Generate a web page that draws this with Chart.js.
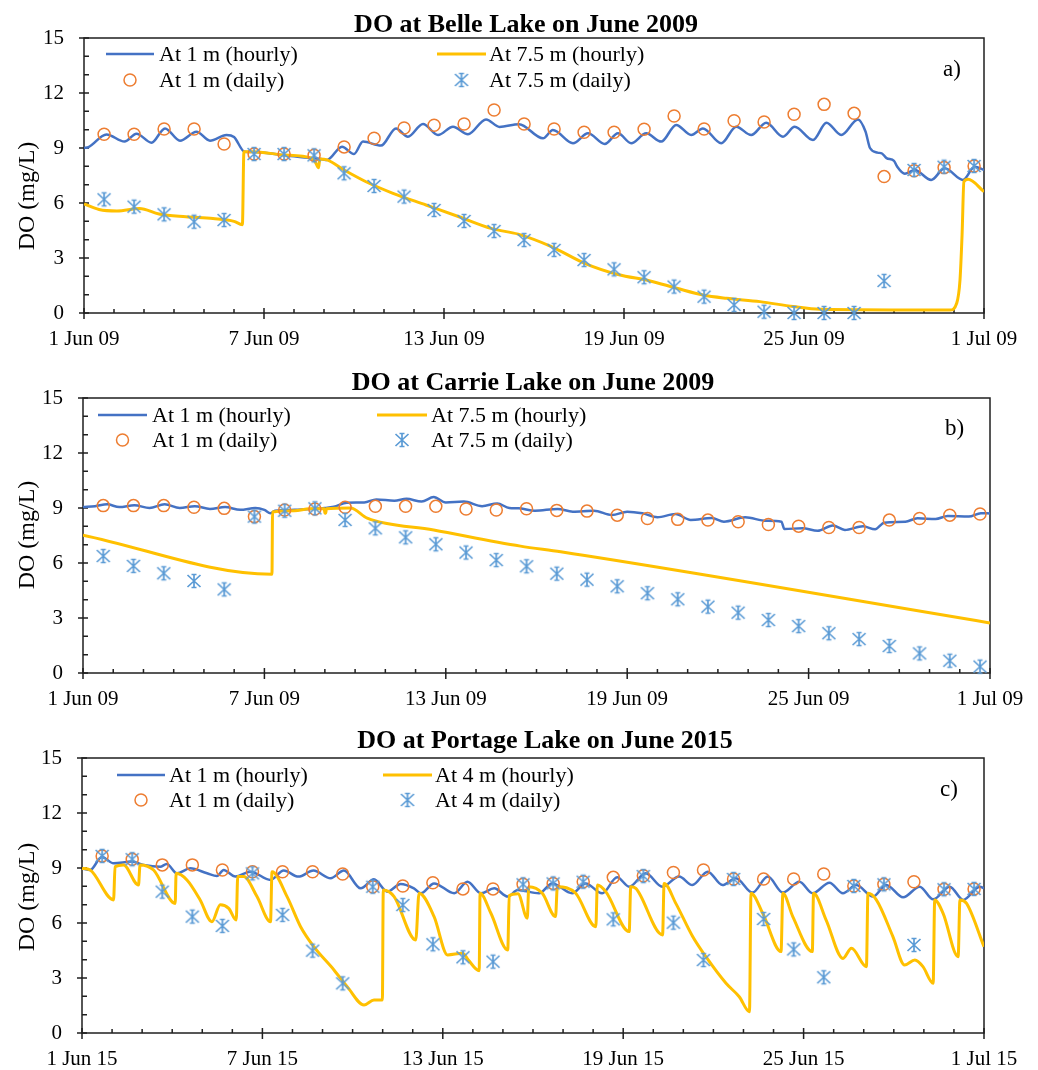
<!DOCTYPE html>
<html>
<head>
<meta charset="utf-8">
<script src="https://cdn.jsdelivr.net/npm/chart.js@4.4.1/dist/chart.umd.min.js"></script>
<style>
  html, body { margin: 0; padding: 0; background: #fff; }
  #wrap { position: relative; width: 1038px; height: 1070px; }
  canvas { position: absolute; left: 0; }
</style>
</head>
<body>
<div id="wrap">
  <canvas id="chartA" width="1038" height="350" style="top:0"></canvas>
  <canvas id="chartB" width="1038" height="350" style="top:360px"></canvas>
  <canvas id="chartC" width="1038" height="350" style="top:720px"></canvas>
</div>
<script>
// ---- data (day 0 = 1 Jun 00:00) ----
const ticks2009 = ['1 Jun 09', '7 Jun 09', '13 Jun 09', '19 Jun 09', '25 Jun 09', '1 Jul 09']
const ticks2015 = ['1 Jun 15', '7 Jun 15', '13 Jun 15', '19 Jun 15', '25 Jun 15', '1 Jul 15']

const dailyDay = [0.67, 1.67, 2.67, 3.67, 4.67, 5.67, 6.67, 7.67, 8.67, 9.67, 10.67, 11.67, 12.67, 13.67, 14.67,
  15.67, 16.67, 17.67, 18.67, 19.67, 20.67, 21.67, 22.67, 23.67, 24.67, 25.67, 26.67, 27.67, 28.67, 29.67]

// Belle Lake
const belleDaily1m = [9.75, 9.75, 10.04, 10.04, 9.22, 8.67, 8.67, 8.6, 9.06, 9.53, 10.09, 10.24, 10.31, 11.07, 10.31,
  10.04, 9.86, 9.86, 10.02, 10.75, 10.04, 10.49, 10.42, 10.84, 11.38, 10.89, 7.44, 7.76, 7.93, 8.02]
const belleDaily75m = [6.2, 5.8, 5.38, 4.98, 5.07, 8.67, 8.67, 8.6, 7.62, 6.93, 6.35, 5.62, 5.02, 4.47, 3.98,
  3.44, 2.89, 2.38, 1.95, 1.44, 0.89, 0.44, 0.07, 0, 0, 0, 1.75, 7.8, 7.98, 8.02]
const belleHourly1m = [[0, 9.0], [0.15, 9.05], [0.75, 9.74], [1.35, 9.35], [1.75, 9.78], [2.25, 9.29], [2.7, 10.07],
  [3.2, 9.4], [3.75, 9.89], [4.2, 9.4], [4.75, 9.71], [5.0, 9.6], [5.35, 8.8], [5.65, 8.78], [6.6, 8.62], [7.6, 8.44],
  [7.9, 8.4], [8.1, 8.35], [8.6, 9.07], [9.0, 8.67], [9.3, 9.35], [9.9, 9.13], [10.4, 10.07], [10.8, 9.62],
  [11.3, 10.31], [11.8, 9.71], [12.3, 10.16], [12.8, 9.75], [13.4, 10.56], [13.85, 10.15], [14.5, 10.3],
  [15.3, 9.53], [15.63, 9.98], [16.3, 9.26], [16.8, 9.8], [17.36, 9.22], [17.8, 9.8], [18.24, 9.26], [18.74, 9.8],
  [19.24, 9.35], [19.74, 10.26], [20.24, 9.71], [20.63, 10.07], [21.24, 9.26], [21.74, 10.16], [22.24, 9.71],
  [22.74, 10.38], [23.3, 9.62], [23.69, 10.16], [24.3, 9.44], [24.75, 10.38], [25.24, 9.71], [25.8, 10.56],
  [26.05, 9.9], [26.2, 9.0], [26.45, 8.75], [26.6, 8.7], [26.75, 8.45], [27.0, 8.3], [27.1, 8.0], [27.36, 7.6],
  [27.69, 7.8], [28.24, 7.26], [28.69, 7.89], [29.3, 7.26], [29.69, 7.98], [30, 7.8]]
const belleHourly75m = [[0, 5.95], [0.5, 5.65], [1.1, 5.57], [1.85, 5.7], [2.5, 5.4], [3.4, 5.25], [4.3, 5.15],
  [5.0, 5.0], [5.28, 4.82], [5.33, 8.8], [5.65, 8.8], [6.65, 8.62], [7.6, 8.44], [7.72, 8.2], [7.82, 7.92],
  [7.86, 8.4], [8.1, 8.35], [8.67, 7.8], [9.4, 7.16], [10.3, 6.53], [11.4, 5.89], [12.5, 5.25], [13.6, 4.6],
  [14.47, 4.3], [15.58, 3.62], [16.69, 2.71], [17.8, 2.1], [18.87, 1.75], [19.76, 1.35], [20.64, 0.98],
  [21.42, 0.8], [22.53, 0.62], [23.64, 0.35], [24.53, 0.2], [28.87, 0.16], [29.09, 0.53], [29.2, 1.8],
  [29.27, 4.3], [29.33, 7.16], [29.47, 7.29], [30, 6.62]]

// Carrie Lake
const carrieDaily1m = [9.13, 9.13, 9.13, 9.04, 8.98, 8.53, 8.89, 8.95, 9.04, 9.09, 9.09, 9.09, 8.95, 8.89, 8.96,
  8.87, 8.83, 8.61, 8.43, 8.38, 8.34, 8.25, 8.1, 8.01, 7.94, 7.94, 8.34, 8.43, 8.61, 8.67]
const carrieDaily75m = [6.38, 5.84, 5.44, 5.02, 4.56, 8.53, 8.85, 8.98, 8.35, 7.89, 7.4, 7.02, 6.57, 6.16, 5.82,
  5.42, 5.09, 4.73, 4.35, 4.02, 3.62, 3.29, 2.89, 2.56, 2.17, 1.85, 1.47, 1.07, 0.67, 0.35]
const carrieHourly1m = [[0, 9.05], [0.4, 9.1], [0.8, 9.2], [1.2, 9.05], [1.7, 9.15], [2.2, 9.0], [2.7, 9.2],
  [3.2, 9.0], [3.7, 9.1], [4.2, 8.95], [4.7, 9.05], [5.2, 8.9], [5.7, 9.0], [6.0, 8.9], [6.2, 8.72], [6.35, 8.85],
  [7.0, 8.9], [7.6, 8.95], [8.0, 9.0], [8.3, 9.07], [8.73, 9.29], [9.3, 9.3], [9.7, 9.47], [10.3, 9.4],
  [10.7, 9.5], [11.2, 9.35], [11.6, 9.6], [12.0, 9.3], [12.6, 9.35], [13.2, 9.1], [13.7, 9.25], [14.1, 9.0],
  [14.4, 8.98], [14.95, 8.85], [15.7, 8.95], [16.2, 8.8], [16.9, 8.85], [17.5, 8.62], [18.0, 8.8], [18.5, 8.71],
  [19.0, 8.5], [19.6, 8.67], [20.1, 8.35], [20.8, 8.45], [21.2, 8.25], [21.9, 8.49], [22.6, 8.3], [23.1, 8.25],
  [23.2, 7.85], [23.8, 7.9], [24.3, 7.76], [24.8, 8.05], [25.2, 7.8], [25.8, 8.0], [26.2, 7.84], [26.5, 8.2],
  [27.2, 8.25], [27.6, 8.44], [28.2, 8.4], [28.6, 8.56], [29.3, 8.53], [29.7, 8.72], [30, 8.7]]
const carrieHourly75m = [[0, 7.52], [6.25, 5.39], [6.27, 8.78], [7.0, 8.85], [7.5, 8.96], [7.98, 8.96],
  [8.0, 8.72], [8.03, 8.72], [8.05, 8.96], [8.85, 9.0], [9.4, 8.45], [11.6, 7.8], [14.47, 6.92], [15.8, 6.61],
  [30, 2.73]]

// Portage Lake
const portageDaily1m = [9.66, 9.48, 9.17, 9.17, 8.89, 8.8, 8.8, 8.8, 8.67, 7.98, 8.02, 8.2, 7.86, 7.86, 8.11,
  8.16, 8.25, 8.49, 8.58, 8.75, 8.89, 8.4, 8.4, 8.4, 8.67, 8.02, 8.11, 8.25, 7.84, 7.86]
const portageDaily4m = [9.66, 9.48, 7.71, 6.35, 5.84, 8.71, 6.44, 4.49, 2.71, 7.98, 6.98, 4.84, 4.13, 3.89, 8.11,
  8.16, 8.25, 6.2, 8.56, 6.02, 3.98, 8.4, 6.22, 4.56, 3.04, 8.02, 8.11, 4.8, 7.84, 7.86]
const portageHourly1m = [[0, 8.98], [0.27, 8.89], [0.66, 9.6], [1.05, 9.26], [1.66, 9.35], [2.05, 9.17],
  [2.6, 9.07], [2.82, 9.22], [3.16, 8.71], [3.6, 8.98], [4.16, 8.71], [4.49, 8.56], [4.71, 8.89], [5.1, 8.53],
  [5.6, 8.8], [6.27, 8.35], [6.71, 8.86], [7.2, 8.53], [7.7, 8.86], [8.27, 8.44], [8.71, 8.86], [9.27, 7.89],
  [9.71, 8.38], [10.16, 7.71], [10.6, 8.13], [11.04, 7.89], [11.27, 7.62], [11.71, 8.16], [12.38, 7.62],
  [12.82, 8.25], [13.27, 7.62], [13.71, 7.89], [14.16, 7.44], [14.49, 7.8], [15.2, 7.62], [15.64, 8.16],
  [16.3, 7.62], [16.75, 8.16], [17.3, 7.62], [17.8, 8.49], [18.2, 7.98], [18.75, 8.71], [19.3, 7.98],
  [19.86, 8.53], [20.3, 8.07], [20.81, 8.8], [21.3, 8.07], [21.75, 8.44], [22.3, 7.66], [22.81, 8.53],
  [23.31, 7.66], [23.86, 8.25], [24.3, 7.62], [24.86, 8.2], [25.31, 7.62], [25.75, 8.07], [26.31, 7.44],
  [26.75, 8.07], [27.31, 7.4], [27.86, 7.98], [28.31, 7.29], [28.86, 7.98], [29.31, 7.26], [29.86, 7.98],
  [30, 7.89]]
const portageHourly4m = [[0, 8.98], [0.27, 8.89], [1.05, 7.26], [1.1, 9.07], [1.38, 9.17], [1.88, 8.07],
  [1.93, 9.17], [2.38, 8.89], [3.1, 7.07], [3.13, 8.71], [3.49, 8.35], [3.93, 7.26], [4.32, 6.07], [4.6, 7.0],
  [4.88, 6.8], [5.13, 6.16], [5.18, 8.53], [5.38, 8.53], [5.82, 7.44], [6.27, 6.07], [6.32, 8.8], [6.82, 7.44],
  [7.27, 5.8], [7.71, 4.71], [8.38, 3.44], [8.82, 2.53], [9.38, 1.53], [9.71, 1.8], [9.99, 1.8], [10.02, 7.8],
  [10.38, 7.44], [11.1, 5.07], [11.21, 7.62], [11.71, 6.35], [12.16, 4.26], [12.66, 4.35], [12.85, 3.98],
  [13.21, 3.4], [13.24, 7.62], [13.6, 6.53], [14.16, 4.53], [14.21, 7.5], [14.5, 7.6], [14.81, 6.26],
  [14.86, 7.98], [15.31, 7.62], [15.75, 6.35], [15.81, 7.98], [16.42, 7.62], [17.09, 5.8], [17.14, 8.07],
  [17.42, 7.71], [18.2, 5.53], [18.25, 7.98], [18.42, 7.89], [19.31, 5.35], [19.36, 8.16], [19.75, 7.07],
  [20.31, 5.26], [20.75, 4.16], [21.42, 2.71], [21.86, 1.98], [22.2, 1.16], [22.25, 7.62], [22.64, 6.53],
  [23.25, 4.44], [23.31, 7.62], [23.64, 6.35], [24.29, 4.44], [24.33, 7.62], [24.75, 6.16], [25.31, 4.07],
  [25.59, 4.62], [26.09, 3.62], [26.14, 7.62], [26.42, 7.26], [26.97, 5.26], [27.36, 3.71], [27.7, 3.98],
  [27.97, 3.62], [28.31, 2.71], [28.36, 7.26], [28.64, 6.53], [29.14, 4.16], [29.2, 7.26], [29.42, 7.07],
  [30, 4.71]]

// ---- styling ----
const SERIF = "'Liberation Serif', 'Times New Roman', serif"
const BLUE_LINE = '#4472C4'
const YELLOW_LINE = '#FFC000'
const ORANGE = '#ED7D31'
const STAR_BLUE = '#5B9BD5'

function makeStar(color) {
  const c = document.createElement('canvas')
  c.width = 18
  c.height = 18
  const g = c.getContext('2d')
  g.strokeStyle = color
  g.lineWidth = 1.7
  g.beginPath()
  g.moveTo(2.5, 3); g.lineTo(15.5, 15)
  g.moveTo(15.5, 3); g.lineTo(2.5, 15)
  g.moveTo(9, 2); g.lineTo(9, 16)
  g.moveTo(6.5, 2.5); g.lineTo(11.5, 2.5)
  g.moveTo(6.5, 15.5); g.lineTo(11.5, 15.5)
  g.stroke()
  return c
}
const starImg = makeStar(STAR_BLUE)

// draws the box, tick marks, titles, tag and legend
const decorPlugin = {
  id: 'decor',
  beforeDatasetsDraw(chart) {
    const { ctx, chartArea: a, scales: { x, y } } = chart
    ctx.save()
    ctx.strokeStyle = '#1f1f1f'
    ctx.lineWidth = 1.5
    ctx.strokeRect(a.left, a.top, a.right - a.left, a.bottom - a.top)
    ctx.beginPath()
    for (let v = 0; v <= 15; v++) {
      const py = y.getPixelForValue(v)
      const major = v % 3 === 0
      ctx.moveTo(a.left - (major ? 5 : 0), py)
      ctx.lineTo(a.left + 5, py)
    }
    for (let d = 0; d <= 30; d++) {
      const px = x.getPixelForValue(d)
      const major = d % 6 === 0
      ctx.moveTo(px, a.bottom - (major ? 5 : 4))
      ctx.lineTo(px, a.bottom + (major ? 6 : 0))
    }
    ctx.stroke()
    ctx.restore()
  },
  afterDraw(chart, args, o) {
    const { ctx } = chart
    ctx.save()
    ctx.fillStyle = '#000'
    // title
    ctx.font = 'bold 26px ' + SERIF
    ctx.textAlign = 'center'
    ctx.textBaseline = 'alphabetic'
    ctx.fillText(o.title, o.titleX, o.titleY)
    // y axis title
    ctx.save()
    ctx.translate(28, o.yTitleY)
    ctx.rotate(-Math.PI / 2)
    ctx.font = '24px ' + SERIF
    ctx.textBaseline = 'middle'
    ctx.fillText('DO (mg/L)', 0, 0)
    ctx.restore()
    // panel tag
    ctx.font = '23px ' + SERIF
    ctx.textAlign = 'left'
    ctx.fillText(o.tag, o.tagX, o.tagY)
    // legend
    const L = o.legend
    ctx.font = '22px ' + SERIF
    const items = [
      { col: L.col1, row: L.row1, kind: 'line', color: BLUE_LINE, text: L.labels[0] },
      { col: L.col2, row: L.row1, kind: 'line', color: YELLOW_LINE, text: L.labels[1] },
      { col: L.col1, row: L.row2, kind: 'circle', text: L.labels[2] },
      { col: L.col2, row: L.row2, kind: 'star', text: L.labels[3] }
    ]
    items.forEach(it => {
      const [x0, x1, tx] = it.col
      const mid = (x0 + x1) / 2
      if (it.kind === 'line') {
        ctx.strokeStyle = it.color
        ctx.lineWidth = it.color === BLUE_LINE ? 2.5 : 3
        ctx.beginPath()
        ctx.moveTo(x0, it.row)
        ctx.lineTo(x1, it.row)
        ctx.stroke()
      } else if (it.kind === 'circle') {
        ctx.strokeStyle = ORANGE
        ctx.lineWidth = 1.5
        ctx.beginPath()
        ctx.arc(mid, it.row, 6, 0, Math.PI * 2)
        ctx.stroke()
      } else {
        ctx.drawImage(starImg, mid - 9, it.row - 9)
      }
      ctx.fillStyle = '#000'
      ctx.fillText(it.text, tx, it.row + 7)
    })
    ctx.restore()
  }
}

function toXY(pairs) {
  return pairs.map(p => ({ x: p[0], y: p[1] }))
}
function dailyXY(values) {
  return values.map((v, i) => ({ x: dailyDay[i], y: v }))
}

function makePanel(id, p) {
  new Chart(document.getElementById(id).getContext('2d'), {
    type: 'scatter',
    plugins: [decorPlugin],
    data: {
      datasets: [
        {
          label: p.legend.labels[0], data: toXY(p.hourly1m), showLine: true, order: 4,
          borderColor: BLUE_LINE, borderWidth: 2.5, pointRadius: 0, cubicInterpolationMode: 'monotone'
        },
        {
          label: p.legend.labels[1], data: toXY(p.hourlyDeep), showLine: true, order: 3,
          borderColor: YELLOW_LINE, borderWidth: 3, pointRadius: 0, cubicInterpolationMode: 'monotone'
        },
        {
          label: p.legend.labels[2], data: dailyXY(p.daily1m), order: 2, clip: false,
          pointStyle: 'circle', pointRadius: 6, borderColor: ORANGE, borderWidth: 1.5,
          backgroundColor: 'rgba(0,0,0,0)'
        },
        {
          label: p.legend.labels[3], data: dailyXY(p.dailyDeep), order: 1, clip: false,
          pointStyle: starImg, pointRadius: 8
        }
      ]
    },
    options: {
      responsive: false,
      animation: false,
      events: [],
      layout: { padding: { top: 38, right: p.padRight, left: 0, bottom: 0 } },
      scales: {
        x: {
          type: 'linear', min: 0, max: 30,
          afterFit: s => { s.height = 37 },
          grid: { display: false, drawTicks: false },
          border: { display: false },
          ticks: {
            stepSize: 6, padding: 14, color: '#000', maxRotation: 0,
            font: { family: SERIF, size: 21 },
            callback: v => p.xLabels[v / 6]
          }
        },
        y: {
          min: 0, max: 15,
          afterFit: s => { s.width = p.yWidth },
          grid: { display: false, drawTicks: false },
          border: { display: false },
          ticks: { stepSize: 3, padding: 20, color: '#000', font: { family: SERIF, size: 21 } }
        }
      },
      plugins: {
        legend: { display: false },
        tooltip: { enabled: false },
        decor: {
          title: p.title, titleX: p.titleX, titleY: p.titleY, yTitleY: p.yTitleY,
          tag: p.tag, tagX: p.tagX, tagY: p.tagY, legend: p.legend
        }
      }
    }
  })
}

makePanel('chartA', {
  title: 'DO at Belle Lake on June 2009', titleX: 526, titleY: 32, yTitleY: 196,
  tag: 'a)', tagX: 943, tagY: 76, yWidth: 84, padRight: 54, xLabels: ticks2009,
  hourly1m: belleHourly1m, hourlyDeep: belleHourly75m, daily1m: belleDaily1m, dailyDeep: belleDaily75m,
  legend: {
    row1: 54, row2: 80, col1: [106, 154, 159], col2: [437, 486, 489],
    labels: ['At 1 m (hourly)', 'At 7.5 m (hourly)', 'At 1 m (daily)', 'At 7.5 m (daily)']
  }
})

makePanel('chartB', {
  title: 'DO at Carrie Lake on June 2009', titleX: 533, titleY: 30, yTitleY: 175,
  tag: 'b)', tagX: 945, tagY: 75, yWidth: 83, padRight: 48, xLabels: ticks2009,
  hourly1m: carrieHourly1m, hourlyDeep: carrieHourly75m, daily1m: carrieDaily1m, dailyDeep: carrieDaily75m,
  legend: {
    row1: 55, row2: 80, col1: [98, 147, 152], col2: [377, 427, 431],
    labels: ['At 1 m (hourly)', 'At 7.5 m (hourly)', 'At 1 m (daily)', 'At 7.5 m (daily)']
  }
})

makePanel('chartC', {
  title: 'DO at Portage Lake on June 2015', titleX: 545, titleY: 28, yTitleY: 177,
  tag: 'c)', tagX: 940, tagY: 76, yWidth: 82, padRight: 54, xLabels: ticks2015,
  hourly1m: portageHourly1m, hourlyDeep: portageHourly4m, daily1m: portageDaily1m, dailyDeep: portageDaily4m,
  legend: {
    row1: 55, row2: 80, col1: [117, 165, 169], col2: [383, 432, 435],
    labels: ['At 1 m (hourly)', 'At 4 m (hourly)', 'At 1 m (daily)', 'At 4 m (daily)']
  }
})
</script>
</body>
</html>
